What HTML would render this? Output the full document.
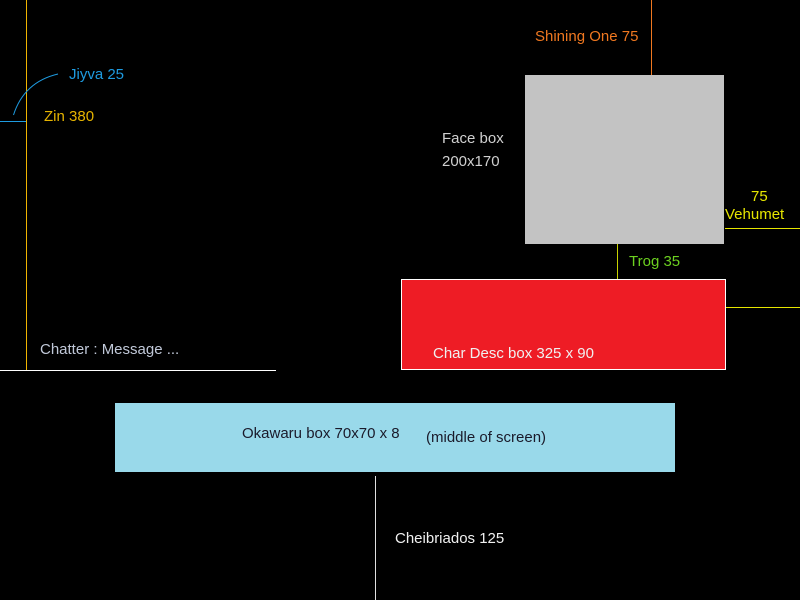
<!DOCTYPE html>
<html><head><meta charset="utf-8"><style>
html,body{margin:0;padding:0;background:#000;width:800px;height:600px;overflow:hidden}
svg{display:block}
text{font-family:"Liberation Sans","DejaVu Sans",sans-serif;font-size:15px}
</style></head><body>
<svg width="800" height="600" viewBox="0 0 800 600">
<rect x="0" y="0" width="800" height="600" fill="#000"/>
<line x1="26.5" y1="0" x2="26.5" y2="370" stroke="#f0b400" stroke-width="1"/>
<line x1="0" y1="121.5" x2="26" y2="121.5" stroke="#1e9be0" stroke-width="1"/>
<path d="M13.5 115 Q24 82 58 74" fill="none" stroke="#1e9be0" stroke-width="1"/>
<text x="69" y="79" fill="#1e9be0">Jiyva 25</text>
<text x="44" y="121" fill="#e6b400">Zin 380</text>
<line x1="0" y1="370.5" x2="276" y2="370.5" stroke="#fff" stroke-width="1"/>
<text x="40" y="354" fill="#c0c8d8">Chatter : Message ...</text>
<line x1="651.5" y1="0" x2="651.5" y2="75" stroke="#f07820" stroke-width="1"/>
<text x="535" y="41" fill="#f07820">Shining One 75</text>
<rect x="525" y="75" width="199" height="169" fill="#c3c3c3"/>
<text x="442" y="143" fill="#d0d0d0">Face box</text>
<text x="442" y="166" fill="#d0d0d0">200x170</text>
<text x="751" y="201" fill="#e6e600">75</text>
<text x="725" y="219" fill="#e6e600">Vehumet</text>
<line x1="725" y1="228.5" x2="800" y2="228.5" stroke="#e6e600" stroke-width="1"/>
<line x1="617.5" y1="244" x2="617.5" y2="279" stroke="#c8d200" stroke-width="1"/>
<text x="629" y="266" fill="#6cd020">Trog 35</text>
<rect x="401.5" y="279.5" width="324" height="90" fill="#ee1c25" stroke="#fff" stroke-width="1"/>
<text x="433" y="358" fill="#f0f0f0">Char Desc box 325 x 90</text>
<line x1="726" y1="307.5" x2="800" y2="307.5" stroke="#e6e600" stroke-width="1"/>
<rect x="115" y="403" width="560" height="69" fill="#99d9ea"/>
<text x="242" y="438" fill="#1a1a2a">Okawaru box 70x70 x 8</text>
<text x="426" y="442" fill="#1a1a2a">(middle of screen)</text>
<line x1="375.5" y1="476" x2="375.5" y2="600" stroke="#e0e0e0" stroke-width="1"/>
<text x="395" y="543" fill="#f0f0f0">Cheibriados 125</text>
</svg>
</body></html>
